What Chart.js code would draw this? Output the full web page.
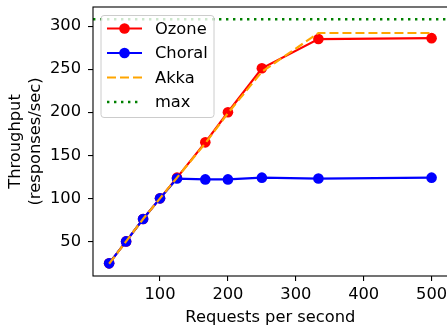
<!DOCTYPE html>
<html>
<head>
<meta charset="utf-8">
<script src="https://cdn.jsdelivr.net/npm/chart.js@4"></script>
<style>
  html, body { margin: 0; padding: 0; background: #fff; overflow: hidden; }
  #wrap { width: 447px; height: 331px; overflow: hidden; }
</style>
</head>
<body>
<div id="wrap"><canvas id="chart1"></canvas></div>
<script>
// requests per second
const xValues = [25, 50, 75, 100, 125, 166.7, 200, 250, 333.3, 500];
const ozone = [24.5, 50, 76, 100, 124, 165, 200, 251, 285, 286];
const choral = [24.5, 50, 76, 100, 123, 122, 122, 124, 123, 124];
const akka = [24, 50, 76, 100, 124, 164, 199, 247, 292, 292];
const maxThroughput = 308;

const xTicks = [100, 200, 300, 400, 500];
const yTicks = [50, 100, 150, 200, 250, 300];
const xMin = 1.25, xMax = 523.75;
const yMin = 9.8, yMax = 322.2;

const FONT = 'DejaVu Sans';
const fontSize = 16.3;

function pts(ys) {
  return xValues.map((x, i) => ({ x: x, y: ys[i] }));
}

const canvas = document.getElementById('chart1');
canvas.width = 453;
canvas.height = 331;
const ctx = canvas.getContext('2d');

// frame (matplotlib spines)
const framePlugin = {
  id: 'frame',
  afterDatasetsDraw(chart) {
    const a = chart.chartArea;
    const c = chart.ctx;
    c.save();
    c.strokeStyle = '#000';
    c.lineWidth = 1.1;
    c.strokeRect(a.left, a.top, a.right - a.left, a.bottom - a.top);
    c.restore();
  },
};

// legend box in the upper left, like matplotlib
const legendPlugin = {
  id: 'boxLegend',
  afterDraw(chart) {
    const c = chart.ctx;
    const a = chart.chartArea;
    const x0 = a.left + 8, y0 = a.top + 8.5, w = 113, h = 102;
    c.save();
    c.beginPath();
    c.roundRect(x0, y0, w, h, 3);
    c.fillStyle = 'rgba(255,255,255,0.8)';
    c.fill();
    c.strokeStyle = '#cccccc';
    c.lineWidth = 1;
    c.stroke();
    chart.data.datasets.forEach((ds, i) => {
      const y = y0 + 13 + i * 24.5;
      c.beginPath();
      c.setLineDash(ds.borderDash || []);
      c.strokeStyle = ds.borderColor;
      c.lineWidth = ds.borderWidth;
      c.moveTo(x0 + 6, y);
      c.lineTo(x0 + 41, y);
      c.stroke();
      c.setLineDash([]);
      if (ds.pointRadius > 0) {
        c.beginPath();
        c.arc(x0 + 23.5, y, ds.pointRadius, 0, Math.PI * 2);
        c.fillStyle = ds.pointBackgroundColor;
        c.fill();
      }
      c.fillStyle = '#000';
      c.font = fontSize + 'px "' + FONT + '"';
      c.textBaseline = 'middle';
      c.textAlign = 'left';
      c.fillText(ds.label, x0 + 54, y + 1);
    });
    c.restore();
  },
};

new Chart(ctx, {
  type: 'line',
  data: {
    datasets: [
      {
        label: 'Ozone',
        data: pts(ozone),
        borderColor: '#ff0000',
        backgroundColor: '#ff0000',
        pointBackgroundColor: '#ff0000',
        borderWidth: 2.2,
        pointRadius: 5.3,
        pointBorderWidth: 0,
        order: 4,
      },
      {
        label: 'Choral',
        data: pts(choral),
        borderColor: '#0000ff',
        backgroundColor: '#0000ff',
        pointBackgroundColor: '#0000ff',
        borderWidth: 2.2,
        pointRadius: 5.3,
        pointBorderWidth: 0,
        order: 3,
      },
      {
        label: 'Akka',
        data: pts(akka),
        borderColor: '#ffa500',
        backgroundColor: '#ffa500',
        borderWidth: 2.2,
        borderDash: [9, 4],
        pointRadius: 0,
        order: 2,
      },
      {
        label: 'max',
        data: [{ x: xMin, y: maxThroughput }, { x: xMax, y: maxThroughput }],
        borderColor: '#008000',
        backgroundColor: '#008000',
        borderWidth: 2.4,
        borderDash: [2.4, 4.6],
        pointRadius: 0,
        order: 1,
      },
    ],
  },
  options: {
    responsive: false,
    maintainAspectRatio: false,
    animation: false,
    events: [],
    layout: { padding: { top: 7, right: 2, left: 0, bottom: 0 } },
    plugins: {
      legend: { display: false },
      tooltip: { enabled: false },
    },
    scales: {
      x: {
        type: 'linear',
        min: xMin,
        max: xMax,
        afterBuildTicks: (s) => { s.ticks = xTicks.map(v => ({ value: v })); },
        afterFit: (s) => { s.height = 55; s.paddingLeft = 0; s.paddingRight = 0; },
        grid: { display: true, drawOnChartArea: false, drawTicks: true, tickLength: 5, color: '#000', lineWidth: 1.1 },
        border: { display: false },
        ticks: { color: '#000', font: { family: FONT, size: fontSize }, padding: 4, maxRotation: 0 },
        title: {
          display: true,
          text: 'Requests per second',
          color: '#000',
          font: { family: FONT, size: fontSize },
          padding: { top: 0, bottom: 3 },
        },
      },
      y: {
        type: 'linear',
        min: yMin,
        max: yMax,
        afterBuildTicks: (s) => { s.ticks = yTicks.map(v => ({ value: v })); },
        afterFit: (s) => { s.width = 93; s.paddingTop = 0; s.paddingBottom = 0; },
        grid: { display: true, drawOnChartArea: false, drawTicks: true, tickLength: 5, color: '#000', lineWidth: 1.1 },
        border: { display: false },
        ticks: { color: '#000', font: { family: FONT, size: fontSize }, padding: 7 },
        title: {
          display: true,
          text: ['Throughput', '(responses/sec)'],
          color: '#000',
          font: { family: FONT, size: fontSize, lineHeight: 1.23 },
          padding: { top: 6, bottom: 0 },
        },
      },
    },
  },
  plugins: [framePlugin, legendPlugin],
});
</script>
</body>
</html>
